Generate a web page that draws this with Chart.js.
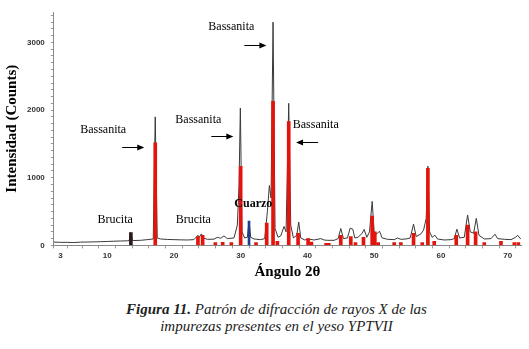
<!DOCTYPE html>
<html>
<head>
<meta charset="utf-8">
<script src="https://cdn.jsdelivr.net/npm/chart.js@4"></script>
<style>
  body { margin: 0; background: #fff; width: 529px; height: 349px; overflow: hidden; }
  #wrap { position: absolute; left: 0; top: 0; width: 529px; height: 281px; }
  #caption { position: absolute; left: 12px; top: 301px; width: 529px; text-align: center;
    font-family: "Liberation Serif", serif; font-style: italic; font-size: 15px; line-height: 17px; color: #222; }
</style>
</head>
<body>
<div id="wrap"><canvas id="grafica"></canvas></div>
<div id="caption"><b>Figura 11.</b> Patrón de difracción de rayos X de las<br>impurezas presentes en el yeso YPTVII</div>
<script>
// difractograma medido (2θ, cuentas)
const patronX = [2, 3, 4, 5, 6, 7, 8, 9, 10, 11, 12, 13, 13.3, 13.5, 13.8, 14, 15, 16, 16.9, 17.2, 17.5, 18, 19, 20, 21, 22, 23, 23.6, 23.8, 24.1, 24.4, 25, 26, 26.5, 27, 27.5, 28, 29, 29.5, 29.75, 29.95, 30.2, 30.6, 31, 31.25, 31.5, 32, 33, 33.6, 34.0, 34.3, 34.55, 34.85, 35.15, 35.6, 36, 36.5, 36.8, 37.2, 37.5, 37.9, 38.4, 38.7, 39, 39.6, 40.1, 41, 42, 42.5, 43, 44, 44.6, 45, 45.4, 46, 46.4, 46.8, 47.1, 47.6, 48.2, 48.5, 48.9, 49.3, 49.7, 50, 50.4, 50.8, 51.2, 52, 53, 53.5, 54, 54.8, 55.4, 55.9, 56.3, 57, 57.4, 57.8, 58.05, 58.3, 58.7, 59.1, 59.5, 60.5, 61.5, 62, 62.4, 62.8, 63.5, 64, 64.4, 64.9, 65.3, 65.7, 66.5, 67.5, 68.1, 68.5, 69.5, 70.5, 71.2, 71.5, 71.9, 72];
const patronY = [50, 45, 45, 42, 48, 50, 52, 55, 58, 62, 65, 68, 70, 190, 72, 72, 75, 85, 95, 1900, 110, 95, 88, 85, 82, 80, 85, 150, 120, 170, 110, 90, 92, 120, 105, 140, 100, 110, 300, 880, 2030, 200, 110, 120, 360, 120, 95, 85, 100, 500, 885, 700, 3300, 250, 120, 140, 280, 200, 2100, 300, 110, 150, 345, 110, 80, 95, 80, 100, 80, 75, 75, 100, 250, 100, 110, 255, 240, 110, 120, 180, 235, 120, 200, 650, 200, 170, 210, 110, 90, 85, 110, 90, 95, 110, 315, 130, 170, 225, 400, 1170, 200, 120, 150, 95, 80, 85, 100, 240, 110, 120, 450, 200, 180, 400, 150, 95, 100, 165, 100, 90, 85, 120, 150, 100, 110];

// patrón de referencia (barras rojas)
const refX = [17.2, 23.6, 24.3, 26.2, 27.3, 28.6, 30.0, 32.3, 33.9, 34.85, 35.5, 37.2, 38.6, 40.1, 40.6, 42.8, 43.2, 45.0, 46.5, 47.2, 48.4, 49.7, 50.1, 50.6, 53.0, 54.0, 55.9, 57.2, 58.05, 59.0, 62.3, 64.0, 65.2, 66.5, 69.0, 71.0, 71.6];
const refY = [1515, 130, 150, 40, 45, 40, 1170, 40, 330, 2130, 60, 1830, 180, 100, 50, 30, 30, 150, 130, 40, 120, 435, 200, 40, 40, 40, 180, 40, 1140, 60, 150, 300, 200, 40, 60, 40, 40];

// brucita (barra oscura) y cuarzo (barra azul)
const brucitaX = [13.55];
const brucitaY = [190];
const cuarzoX = [31.25];
const cuarzoY = [360];

const ejeXEtiquetas = [3, 10, 20, 30, 40, 50, 60, 70];

// anotaciones
const etiquetas = ['Bassanita', 'Bassanita', 'Bassanita', 'Bassanita', 'Brucita', 'Brucita', 'Cuarzo'];
const etiquetaX = [28.6, 9.4, 23.65, 41.25, 11.2, 22.9, 31.9];
const etiquetaY = [3225, 1710, 1860, 1785, 375, 375, 615];
const flechaDesde = [30.55, 12.25, 25.6, 41.6];
const flechaHasta = [33.85, 15.55, 28.9, 38.3];
const flechaY = [2955, 1455, 1620, 1530];

const puntos = (xs, ys) => xs.map((x, i) => ({ x: x, y: ys[i] }));

const anotaciones = {
    id: 'anotaciones',
    afterDatasetsDraw(chart) {
        const ctx = chart.ctx;
        const sx = chart.scales.x, sy = chart.scales.y;
        ctx.save();
        ctx.fillStyle = '#000';
        ctx.textAlign = 'center';
        ctx.textBaseline = 'middle';
        etiquetas.forEach((t, i) => {
            ctx.font = (t === 'Cuarzo' ? 'bold ' : '') + '12px "Liberation Serif", serif';
            ctx.fillText(t, sx.getPixelForValue(etiquetaX[i]), sy.getPixelForValue(etiquetaY[i]));
        });
        ctx.strokeStyle = '#000';
        ctx.lineWidth = 1;
        flechaDesde.forEach((x0, i) => {
            const a = sx.getPixelForValue(x0), b = sx.getPixelForValue(flechaHasta[i]);
            const y = Math.round(sy.getPixelForValue(flechaY[i])) + 0.5;
            const dir = b > a ? 1 : -1;
            ctx.beginPath();
            ctx.moveTo(a, y);
            ctx.lineTo(b - dir * 5, y);
            ctx.stroke();
            ctx.beginPath();
            ctx.moveTo(b, y);
            ctx.lineTo(b - dir * 7, y - 3);
            ctx.lineTo(b - dir * 7, y + 3);
            ctx.closePath();
            ctx.fill();
        });
        ctx.restore();
    }
};

const ctx = document.getElementById('grafica').getContext('2d');
new Chart(ctx, {
    type: 'bar',
    data: {
        datasets: [
            {
                type: 'line',
                label: 'Medido',
                data: puntos(patronX, patronY),
                borderColor: '#3a3a3a',
                borderWidth: 1,
                pointRadius: 0,
                tension: 0,
                order: 2
            },
            {
                label: 'Referencia',
                data: puntos(refX, refY),
                backgroundColor: '#e3140c',
                barThickness: 3,
                grouped: false,
                order: 1
            },
            {
                label: 'Brucita',
                data: puntos(brucitaX, brucitaY),
                backgroundColor: '#2a1c1c',
                barThickness: 3,
                grouped: false,
                order: 1
            },
            {
                label: 'Cuarzo',
                data: puntos(cuarzoX, cuarzoY),
                backgroundColor: '#1f3c8c',
                barThickness: 2,
                grouped: false,
                order: 1
            }
        ]
    },
    options: {
        responsive: true,
        maintainAspectRatio: false,
        animation: false,
        layout: { padding: { top: 12, right: 8, left: 3, bottom: 0 } },
        plugins: { legend: { display: false }, tooltip: { enabled: false } },
        scales: {
            x: {
                type: 'linear',
                min: 2,
                max: 72,
                offset: false,
                afterBuildTicks: function (scale) {
                    const v = [3];
                    for (let t = 5; t <= 70; t += 2.5) v.push(t);
                    scale.ticks = v.map(t => ({ value: t }));
                },
                ticks: {
                    autoSkip: false,
                    maxRotation: 0,
                    padding: 3,
                    color: '#333',
                    font: { family: 'Arial, "Liberation Sans", sans-serif', size: 8, weight: 'bold' },
                    callback: v => ejeXEtiquetas.includes(v) ? String(v) : ''
                },
                grid: { drawOnChartArea: false, drawTicks: true, tickLength: 3, color: '#999' },
                border: { display: true, color: '#888' },
                title: {
                    display: true,
                    text: 'Ángulo 2θ',
                    color: '#000',
                    padding: { top: -1, bottom: 0 },
                    font: { family: '"Liberation Serif", serif', size: 15, weight: 'bold' }
                }
            },
            y: {
                min: 0,
                max: 3450,
                afterBuildTicks: function (scale) {
                    const v = [];
                    for (let t = 0; t <= 3400; t += 100) v.push(t);
                    scale.ticks = v.map(t => ({ value: t }));
                },
                ticks: {
                    autoSkip: false,
                    padding: 6,
                    color: '#333',
                    font: { family: 'Arial, "Liberation Sans", sans-serif', size: 8, weight: 'bold' },
                    callback: v => v % 1000 === 0 ? String(v) : ''
                },
                grid: { drawOnChartArea: false, drawTicks: true, tickLength: 3, color: '#999' },
                border: { display: true, color: '#888' },
                title: {
                    display: true,
                    text: 'Intensidad (Counts)',
                    color: '#000',
                    padding: { top: 0, bottom: 0 },
                    font: { family: '"Liberation Serif", serif', size: 15, weight: 'bold' }
                }
            }
        }
    },
    plugins: [anotaciones]
});
</script>
</body>
</html>
